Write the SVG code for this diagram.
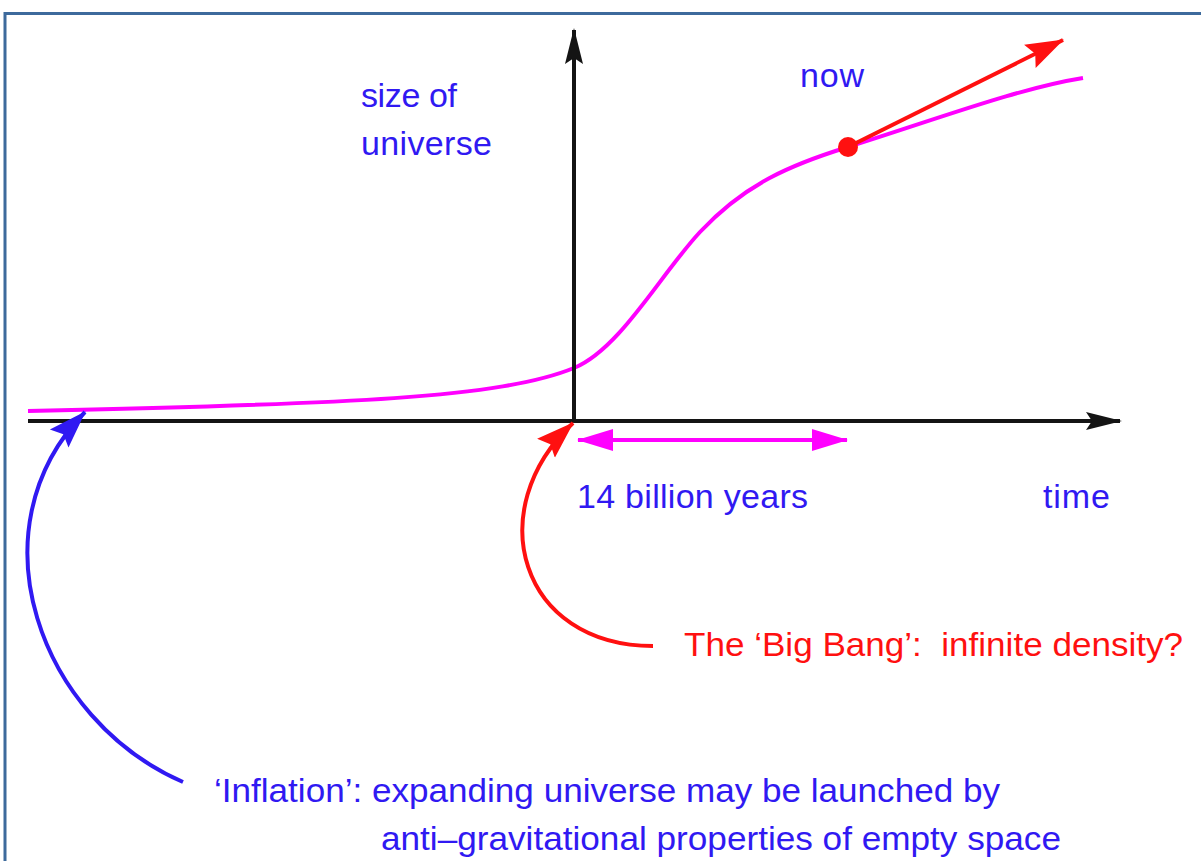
<svg xmlns="http://www.w3.org/2000/svg" width="1201" height="861" viewBox="0 0 1201 861">
<defs>
<style>
text{font-family:"Liberation Sans",Arial,sans-serif;font-size:34px;white-space:pre}
.blue{fill:#3019f2}
.red{fill:#ff1010}
.axis{stroke:#141414;stroke-width:4;fill:none}
.mag{stroke:#ff00ff;stroke-width:4;fill:none}
</style>
<marker id="ahBlack" markerWidth="36" markerHeight="20" refX="34" refY="10" orient="auto" markerUnits="userSpaceOnUse">
<path d="M0,1 L36,10 L0,19 L6,10 Z" fill="#141414"/>
</marker>
<marker id="ahMag" markerWidth="36" markerHeight="24" refX="35" refY="12" orient="auto-start-reverse" markerUnits="userSpaceOnUse">
<path d="M0,1 L36,12 L0,23 Z" fill="#ff00ff"/>
</marker>
<marker id="ahRed" markerWidth="38" markerHeight="28" refX="37" refY="14" orient="auto" markerUnits="userSpaceOnUse">
<path d="M0,1 L38,14 L0,27 L6,14 Z" fill="#ff1010"/>
</marker>
<marker id="ahBlue" markerWidth="38" markerHeight="28" refX="37" refY="14" orient="auto" markerUnits="userSpaceOnUse">
<path d="M0,1 L38,14 L0,27 L6,14 Z" fill="#3019f2"/>
</marker>
</defs>
<rect width="1201" height="861" fill="#ffffff"/>
<rect x="5" y="13.5" width="1210" height="870" fill="none" stroke="#3d6a9c" stroke-width="3"/>

<g id="connectors">
<path id="curve" class="mag" d="M28,411 C350,404 500,398 574,368 C620,349 660,275 700,232 C745,184 790,165 848,147 C940,118 1020,88 1083,78"/>
<line id="x-axis" class="axis" x1="28" y1="421" x2="1120" y2="421" marker-end="url(#ahBlack)"/>
<line id="y-axis" class="axis" x1="574" y1="421" x2="574" y2="30" marker-end="url(#ahBlack)"/>
<line id="span" class="mag" x1="578" y1="440" x2="847" y2="440" marker-start="url(#ahMag)" marker-end="url(#ahMag)"/>
<line id="tangent" stroke="#ff1010" stroke-width="4" x1="848" y1="147" x2="1063" y2="40" marker-end="url(#ahRed)"/>
<path id="bigbang-arrow" d="M653,646 C520,646 480,510 573,423" stroke="#ff1010" stroke-width="4" fill="none" marker-end="url(#ahRed)"/>
<path id="inflation-arrow" d="M183,782 C40,720 -30,530 85,412" stroke="#3019f2" stroke-width="4" fill="none" marker-end="url(#ahBlue)"/>
</g>

<g id="now-point"><circle cx="848" cy="147" r="10" fill="#ff1010"/></g>

<g id="label-size"><text class="blue" x="361" y="107" textLength="96">size of</text><text class="blue" x="361" y="155" textLength="131">universe</text></g>
<g id="label-now"><text class="blue" x="800" y="87" textLength="64">now</text></g>
<g id="label-years"><text class="blue" x="577" y="508" textLength="231">14 billion years</text></g>
<g id="label-time"><text class="blue" x="1043" y="508" textLength="67">time</text></g>
<g id="label-bigbang"><text class="red" x="684" y="656" textLength="499" lengthAdjust="spacingAndGlyphs">The ‘Big Bang’:  infinite density?</text></g>
<g id="label-inflation">
<text class="blue" x="214" y="802" style="font-size:33px" textLength="786" lengthAdjust="spacingAndGlyphs">‘Inflation’: expanding universe may be launched by</text>
<text class="blue" x="381" y="850" style="font-size:33px" textLength="680" lengthAdjust="spacingAndGlyphs">anti–gravitational properties of empty space</text>
</g>
</svg>
